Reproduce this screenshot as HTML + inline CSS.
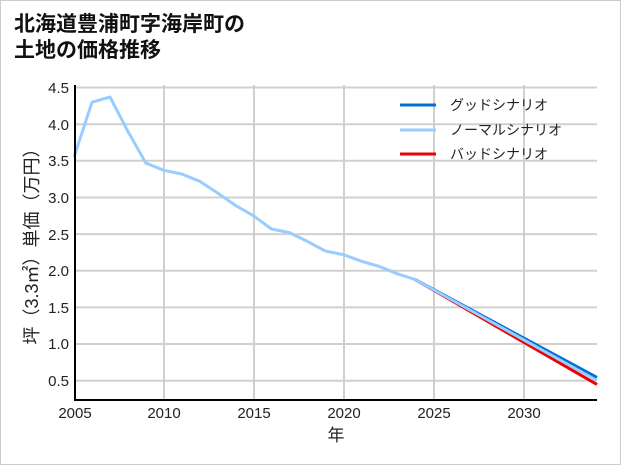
<!DOCTYPE html>
<html><head><meta charset="utf-8"><style>
body{margin:0;background:#fff}
svg{display:block}
text{font-family:"Liberation Sans","Noto Sans CJK JP",sans-serif}
</style></head><body>
<svg width="621" height="465" viewBox="0 0 621 465">
<rect x="0.5" y="0.5" width="620" height="464" fill="#fff" stroke="#ccc"/>
<text x="14" y="31" font-size="21" font-weight="bold" fill="#111">北海道豊浦町字海岸町の</text>
<text x="14" y="57" font-size="21" font-weight="bold" fill="#111">土地の価格推移</text>
<g stroke="#d0d0d0" stroke-width="2">
<line x1="75" y1="87.5" x2="597" y2="87.5"/>
<line x1="75" y1="124.2" x2="597" y2="124.2"/>
<line x1="75" y1="160.8" x2="597" y2="160.8"/>
<line x1="75" y1="197.5" x2="597" y2="197.5"/>
<line x1="75" y1="234.1" x2="597" y2="234.1"/>
<line x1="75" y1="270.8" x2="597" y2="270.8"/>
<line x1="75" y1="307.4" x2="597" y2="307.4"/>
<line x1="75" y1="344" x2="597" y2="344"/>
<line x1="75" y1="380.7" x2="597" y2="380.7"/>
<line x1="164" y1="85" x2="164" y2="400"/>
<line x1="254" y1="85" x2="254" y2="400"/>
<line x1="344" y1="85" x2="344" y2="400"/>
<line x1="434" y1="85" x2="434" y2="400"/>
<line x1="524" y1="85" x2="524" y2="400"/>
</g>
<g font-size="15" fill="#222" text-anchor="end">
<text x="69" y="93">4.5</text><text x="69" y="130">4.0</text><text x="69" y="166">3.5</text>
<text x="69" y="203">3.0</text><text x="69" y="240">2.5</text><text x="69" y="276">2.0</text>
<text x="69" y="313">1.5</text><text x="69" y="349">1.0</text><text x="69" y="386">0.5</text>
</g>
<g font-size="15" fill="#222" text-anchor="middle">
<text x="75" y="418">2005</text><text x="164" y="418">2010</text><text x="254" y="418">2015</text>
<text x="344" y="418">2020</text><text x="434" y="418">2025</text><text x="524" y="418">2030</text>
<text x="336" y="441" font-size="17">年</text>
</g>
<text transform="translate(38,242) rotate(-90)" font-size="18" fill="#222" text-anchor="middle">坪（3.3㎡）単価（万円）</text>
<g fill="none" stroke-width="3" stroke-linejoin="round">
<polyline stroke="#e00" points="415,279.5 597,384.5"/>
<polyline stroke="#0070d0" points="415,279.5 597,377.5"/>
<polyline stroke="#99ccff" points="74,157.1 92,102.2 110,97 128,131.5 145.8,163 163.8,170.3 181.7,174 199.7,181.3 217.6,193 235.6,205.5 253.5,215.8 271.5,229 289.4,232.6 307.4,241.4 325.3,251 343.3,254.6 361.2,261.2 379.2,266.4 397.1,273.7 415,279.5 597,380.5"/>
</g>
<line x1="75" y1="85" x2="75" y2="401" stroke="#000" stroke-width="2"/>
<line x1="74" y1="400" x2="597" y2="400" stroke="#000" stroke-width="2"/>
<g stroke-width="3">
<line x1="400" y1="105" x2="436" y2="105" stroke="#0070d0"/>
<line x1="400" y1="130" x2="436" y2="130" stroke="#99ccff"/>
<line x1="400" y1="154" x2="436" y2="154" stroke="#e00"/>
</g>
<g font-size="14" fill="#222">
<text x="450" y="110">グッドシナリオ</text>
<text x="450" y="135">ノーマルシナリオ</text>
<text x="450" y="159">バッドシナリオ</text>
</g>
</svg>
</body></html>
